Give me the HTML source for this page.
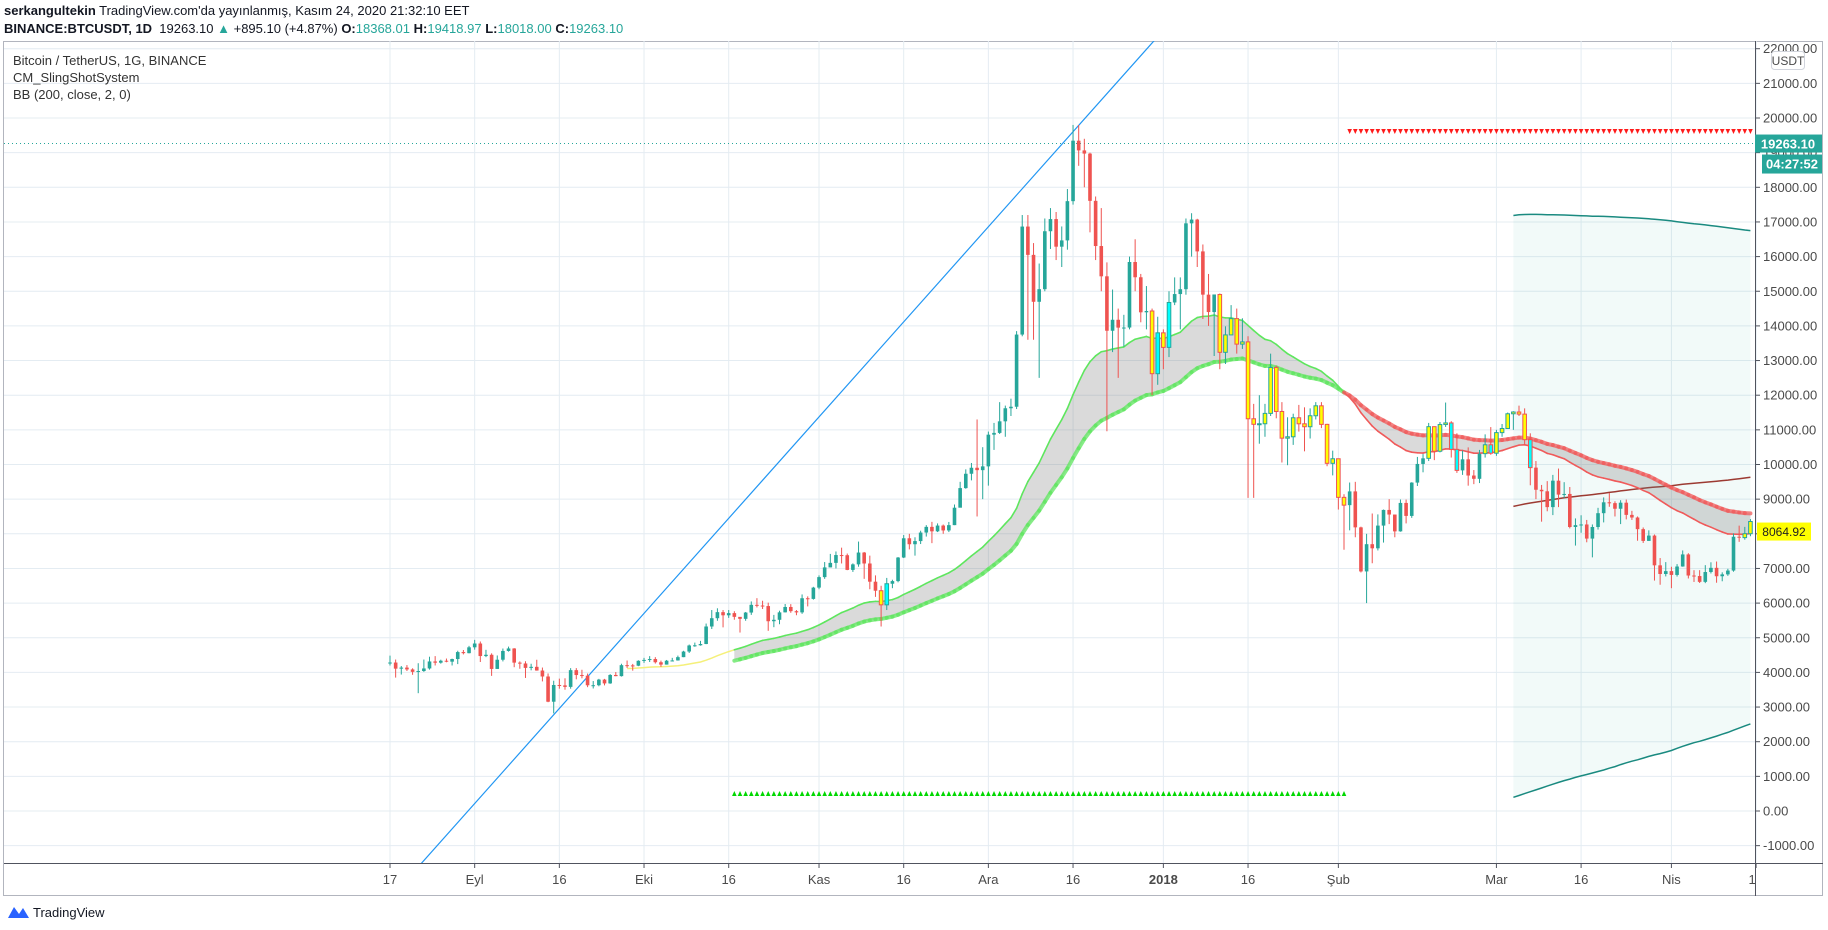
<!DOCTYPE html>
<html><head><meta charset="utf-8"><style>
body{margin:0;width:1828px;height:930px;background:#fff;font-family:"Liberation Sans",sans-serif;overflow:hidden;position:relative}
.hd{position:absolute;left:4px;font-size:13px;color:#131722;white-space:nowrap}
.t{color:#26a69a}
</style></head><body>
<div class="hd" style="top:3px"><b>serkangultekin</b> TradingView.com'da yayınlanmış, Kasım 24, 2020 21:32:10 EET</div>
<div class="hd" style="top:21px"><b>BINANCE:BTCUSDT, 1D</b>&nbsp; 19263.10 <span class="t">▲</span> +895.10 (+4.87%) <b>O:</b><span class="t">18368.01</span> <b>H:</b><span class="t">19418.97</span> <b>L:</b><span class="t">18018.00</span> <b>C:</b><span class="t">19263.10</span></div>
<svg id="c" width="1828" height="930" style="position:absolute;left:0;top:0"></svg>
<script>
const closes=[4285,4108,4139,4086,4016,4040,4114,4316,4280,4337,4310,4386,4587,4555,4724,
4834,4472,4509,4100,4366,4619,4691,4282,4258,4130,4161,4054,3882,3154,3637,3625,3582,4065,3924,3906,3628,3630,3792,3682,3926,3892,4209,4202,4193,4335,
4360,4386,4293,4225,4338,4345,4440,4602,4777,4782,4819,5325,5564,5739,5648,5711,5603,5546,5727,5950,5930,5915,5477,5518,5733,5888,5767,5732,6140,6121,6447,
6750,7030,7161,7387,7382,6958,7118,7459,7143,6618,6357,5950,6559,6635,7315,7871,7699,7790,8036,8200,8071,8238,8097,8250,8753,9319,9733,9906,9837,9946,
10861,10912,11246,11623,11667,13750,16867,16050,14696,15060,16732,17083,16286,16467,17600,19345,19065,18973,17609,16305,15431,13860,14177,13950,13953,15844,15404,14392,14430,12621,13800,
13380,14676,14919,15059,16960,17069,16150,14902,14400,14907,13238,13740,14210,13474,13539,11320,11160,11176,11475,12799,11530,10760,10800,11349,11175,11090,11407,11694,11158,10034,10166,
9052,8827,9224,8186,6914,7700,7581,8237,8689,8556,8070,8891,8516,9478,10016,10178,11092,10383,11153,11200,10437,9830,10149,9682,9587,10313,10569,10326,
10920,11039,11464,11515,11454,10716,9910,9271,9227,8770,9533,9131,9150,8196,8250,8269,7862,8196,8595,8909,8885,8723,8898,8546,8470,8134,7795,7949,7090,6840,6923,
6813,7056,7405,6796,6781,6613,6897,7018,6775,6829,6939,7916,7890,8003,8355];
const highs=[4485,4371,4184,4211,4119,4265,4371,4453,4470,4367,4400,4397,4625,4647,4766,
4939,4892,4652,4550,4489,4689,4745,4700,4318,4322,4250,4365,4140,3970,3760,3820,3830,4123,4124,4076,3967,3751,3814,3813,3950,4010,4250,4343,4245,4350,
4420,4470,4440,4340,4359,4420,4485,4624,4804,4860,4910,5410,5800,5850,5800,5800,5766,5598,5744,6048,6142,6068,6013,5660,5780,5974,5970,5800,6250,6195,6470,
6800,7185,7420,7490,7600,7430,7147,7776,7476,7370,6800,6500,6727,6675,7330,7964,8000,7900,8089,8250,8345,8300,8268,8342,8847,9500,9860,10044,11300,10500,
10950,11200,11800,11700,11900,13850,17200,17200,16390,15800,17100,17400,17287,16870,17950,19800,19798,19400,19000,17735,17400,15835,15049,14500,14320,16000,16500,15500,15150,14500,14264,
13900,15000,15400,15400,17100,17252,17091,16350,15499,14900,14935,13988,14600,14500,14220,13700,11750,12000,11750,13199,12857,11800,11363,11466,11720,11650,11620,11800,11800,11174,10400,
10168,9142,9480,9500,8206,8000,8586,8560,8700,9000,8550,8990,8988,9489,10219,10300,11200,11073,11227,11788,11250,10900,10400,10494,9840,10421,10870,11080,
11000,11169,11500,11539,11700,11620,10900,10100,9410,9520,9700,9883,9490,9350,8444,8535,8400,8270,8750,9050,9177,8939,8970,8988,8663,8500,8183,8100,7980,7300,7183,
7049,7125,7520,7440,6950,6950,7095,7178,7200,6888,6990,8012,8236,8200,8425];
const lows=[4200,3850,3938,4040,3930,3400,4015,4080,4200,4252,4292,4200,4240,4519,4549,
4656,4300,4440,3900,4100,4317,4600,4150,4105,3840,4060,4050,3740,3140,2817,3530,3500,3530,3800,3830,3574,3536,3600,3625,3670,3890,3880,4130,4050,4180,
4274,4300,4255,4160,4225,4318,4340,4440,4561,4740,4771,4815,5252,5490,5300,5574,5520,5150,5490,5660,5875,5830,5200,5305,5390,5730,5720,5650,5690,5905,6100,
6400,6700,7030,7000,7144,6950,6900,7050,6700,6400,6180,5325,5800,6430,6600,7300,7550,7370,7705,7920,7730,8050,8000,8050,8250,8779,9300,9542,8500,9000,
9390,10421,10880,10800,11400,11600,13700,13600,13600,12500,15000,16220,15900,15700,16200,17500,18620,18000,16700,15900,15000,10961,13244,12500,13400,13900,15000,14104,13900,12000,12300,
12750,13100,14600,13900,14900,16000,15700,14199,14000,13131,12750,12900,13800,13200,13335,9035,9037,10600,10800,11400,11333,10058,9980,10566,10950,10380,10750,11300,11050,9950,9686,
8700,7540,8100,7900,6884,6000,7150,7520,7747,8280,7900,8060,8300,8460,9380,9775,10100,10126,10350,11084,10201,9758,9700,9389,9433,9464,10200,10281,
10250,10800,11030,11000,11400,10570,9400,9000,8350,8650,8540,8770,9037,8156,7660,8030,7755,7320,8123,8329,8780,8500,8280,8416,8400,7800,7736,7800,6650,6530,6770,
6430,6766,7050,6711,6610,6580,6576,6855,6588,6630,6786,6906,7768,7830,7930];
const firstOpen=4261;
const priceTicks=[-1000,0,1000,2000,3000,4000,5000,6000,7000,8000,9000,10000,11000,12000,13000,14000,15000,16000,17000,18000,19000,20000,21000,22000];
const timeDays=[0,15,30,45,60,76,91,106,121,137,152,168,196,211,227,242];
const timeLabels=['17','Eyl','16','Eki','16','Kas','16','Ara','16','2018','16','Şub','Mar','16','Nis','1'];
const trendDays=[5.3,135], trendPrices=[-1558,22165];
const lastPrice=19263.1, bbLabelValue=8064.92;

const L=4,R=1755,T=41,B=863;
const X=d=>390+d*5.645, Y=v=>811-v*0.03465;
const svg=document.getElementById('c');const NS='http://www.w3.org/2000/svg';
function mk(tag,a,parent){const e=document.createElementNS(NS,tag);for(const k in a)e.setAttribute(k,a[k]);(parent||svg).appendChild(e);return e;}
const defs=mk('defs',{});const cp=mk('clipPath',{id:'pc'},defs);mk('rect',{x:L,y:T,width:R-L,height:B-T},cp);
let fr=mk('rect',{x:3.5,y:41.5,width:1819,height:854,fill:'none',stroke:'#b2b5be','stroke-width':1});


const grid=mk('g',{});


priceTicks.forEach(v=>{mk('line',{x1:L,x2:R,y1:Y(v),y2:Y(v),stroke:'#e4ecf2'},grid);});
timeDays.forEach(d=>{mk('line',{x1:X(d),x2:X(d),y1:T,y2:B,stroke:'#e4ecf2'},grid);});
const plot=mk('g',{'clip-path':'url(#pc)'});


const n=closes.length;const bbU=[],bbL=[],bbM=[];
for(let i=199;i<n;i++){let s=0;for(let j=i-199;j<=i;j++)s+=closes[j];const m=s/200;let q=0;for(let j=i-199;j<=i;j++)q+=(closes[j]-m)**2;const sd=Math.sqrt(q/200);bbM.push([X(i),Y(m)]);bbU.push([X(i),Y(m+2*sd)]);bbL.push([X(i),Y(m-2*sd)]);}
const pts=a=>a.map(p=>p[0].toFixed(1)+','+p[1].toFixed(1)).join(' ');
let bf=mk('polygon',{points:pts(bbU)+' '+pts(bbL.slice().reverse()),fill:'rgba(38,166,154,0.06)'},plot);


let bu=mk('polyline',{points:pts(bbU),fill:'none',stroke:'#1a8a80','stroke-width':1.5},plot);


let bl=mk('polyline',{points:pts(bbL),fill:'none',stroke:'#1a8a80','stroke-width':1.5},plot);


let bm=mk('polyline',{points:pts(bbM),fill:'none',stroke:'#9c3a32','stroke-width':1.5},plot);


function ema(len){const out=new Array(n).fill(null);let s=0;for(let i=0;i<len;i++)s+=closes[i];let e=s/len;out[len-1]=e;const a=2/(len+1);for(let i=len;i<n;i++){e=a*closes[i]+(1-a)*e;out[i]=e;}return out;}
const ef=ema(38),es=ema(62);const S=61;
const ypts=[];for(let i=42;i<=S;i++)ypts.push([X(i),Y(ef[i])]);
let yl=mk('polyline',{points:pts(ypts),fill:'none',stroke:'#f5f07a','stroke-width':1.5},plot);


const fp=[],sp=[];for(let i=S;i<n;i++){fp.push([X(i),Y(ef[i])]);sp.push([X(i),Y(es[i])]);}
let sf=mk('polygon',{points:pts(fp)+' '+pts(sp.slice().reverse()),fill:'rgba(120,120,120,0.27)'},plot);


for(let i=S+1;i<n;i++){const up=ef[i]>es[i];
 let a=mk('line',{x1:X(i-1),y1:Y(es[i-1]),x2:X(i),y2:Y(es[i]),stroke:up?'#5ee65e':'#f05a5a','stroke-width':4,'stroke-opacity':0.75,'stroke-linecap':'round'},plot);
 
 
 let b=mk('line',{x1:X(i-1),y1:Y(ef[i-1]),x2:X(i),y2:Y(ef[i]),stroke:up?'#5ee65e':'#f05a5a','stroke-width':1.6,'stroke-linecap':'round'},plot);
 
 }
for(let i=S;i<n;i++){const x=X(i);
 if(ef[i]>es[i]){let t=mk('polygon',{points:`${x-2.3},796 ${x+2.3},796 ${x},791`,fill:'#00d800'},plot);}
 else{let t=mk('polygon',{points:`${x-2.3},129 ${x+2.3},129 ${x},134`,fill:'#ff1a1a'},plot);}}
const sl=(trendPrices[1]-trendPrices[0])/(trendDays[1]-trendDays[0]);
const d0=-10,d1=150;
let tl=mk('line',{x1:X(d0),y1:Y(trendPrices[0]+(d0-trendDays[0])*sl),x2:X(d1),y2:Y(trendPrices[0]+(d1-trendDays[0])*sl),stroke:'#2196f3','stroke-width':1.2},plot);


let lp=mk('line',{x1:L,x2:R,y1:Y(lastPrice),y2:Y(lastPrice),stroke:'#26a69a','stroke-dasharray':'1 3'},plot);


for(let i=0;i<n;i++){const o=i?closes[i-1]:firstOpen,c=closes[i],up=c>=o,col=up?'#26a69a':'#ef5350';let fill=col;
 if(i>=S){const f=ef[i],s=es[i],pc=closes[i-1];
  if(f>s&&pc<f&&c>f)fill='#00ffff';else if(f<s&&pc>f&&c<f)fill='#00ffff';
  else if((f>s&&c<f)||(f<s&&c>f))fill='#ffff00';}
 const x=X(i);const g=mk('g',{},plot);
 
 
 mk('line',{x1:x,x2:x,y1:Y(highs[i]),y2:Y(lows[i]),stroke:col,'stroke-width':1},g);
 const yt=Y(Math.max(o,c)),yb=Y(Math.min(o,c));
 mk('rect',{x:x-1.8,y:yt,width:3.6,height:Math.max(1,yb-yt),fill:fill,stroke:col,'stroke-width':fill===col?0:1},g);}
mk('line',{x1:R+0.5,x2:R+0.5,y1:T,y2:896,stroke:'#50535e'});
mk('line',{x1:L,x2:1823,y1:B+0.5,y2:B+0.5,stroke:'#50535e'});
priceTicks.forEach(v=>{const y=Y(v);if(y<T-2)return;mk('line',{x1:R,x2:R+5,y1:y,y2:y,stroke:'#50535e'});
 let t=mk('text',{x:1763,y:y+4.5,'font-size':13,fill:'#4a4a4a','font-family':'Liberation Sans'});t.textContent=v.toFixed(2);
 });
timeDays.forEach((d,k)=>{const x=X(d);mk('line',{x1:x,x2:x,y1:B,y2:B+5,stroke:'#50535e'});
 let t=mk('text',{x:k===timeDays.length-1?x-4:x,y:884,'font-size':13,fill:'#4a4a4a','text-anchor':'middle','font-weight':timeLabels[k]==='2018'?'bold':'normal','font-family':'Liberation Sans'});t.textContent=timeLabels[k];
 });
let ub=mk('g',{});
mk('rect',{x:1771.5,y:51.5,width:33,height:18,rx:3,fill:'#fff',stroke:'#d1d4dc'},ub);
let ut=mk('text',{x:1788,y:65,'font-size':12,'text-anchor':'middle',fill:'#4a4a4a'},ub);ut.textContent='USDT';
let pl=mk('g',{});
mk('rect',{x:1755,y:Y(lastPrice)-9,width:67,height:18,fill:'#26a69a'},pl);
let pt=mk('text',{x:1788,y:Y(lastPrice)+5,'font-size':13,'font-weight':'bold','text-anchor':'middle',fill:'#fff'},pl);pt.textContent=lastPrice.toFixed(2);
let cl=mk('g',{});
mk('rect',{x:1762,y:Y(lastPrice)+11,width:60,height:19,fill:'#26a69a'},cl);
let ct=mk('text',{x:1792,y:Y(lastPrice)+25,'font-size':13,'font-weight':'bold','text-anchor':'middle',fill:'#fff'},cl);ct.textContent='04:27:52';
let yb=mk('g',{});
mk('rect',{x:1757,y:Y(bbLabelValue)-9,width:54,height:18,fill:'#ffff00'},yb);
let yt2=mk('text',{x:1784,y:Y(bbLabelValue)+4.5,'font-size':12,'text-anchor':'middle',fill:'#222'},yb);yt2.textContent=bbLabelValue.toFixed(2);
[['Bitcoin / TetherUS, 1G, BINANCE',61,'legend-symbol'],['CM_SlingShotSystem',78,'legend-slingshot'],['BB (200, close, 2, 0)',95,'legend-bb']].forEach(r=>{
 let t=mk('text',{x:13,y:r[1]+4,'font-size':13,fill:'#333','font-family':'Liberation Sans'});t.textContent=r[0];
 });
let lg=mk('g',{});
mk('path',{d:'M8 918 L14 907 L19 914 L23 908 L29 918 Z',fill:'#2962ff'},lg);
let lt=mk('text',{x:33,y:917,'font-size':13,fill:'#131722'},lg);lt.textContent='TradingView';
</script>
</body></html>
